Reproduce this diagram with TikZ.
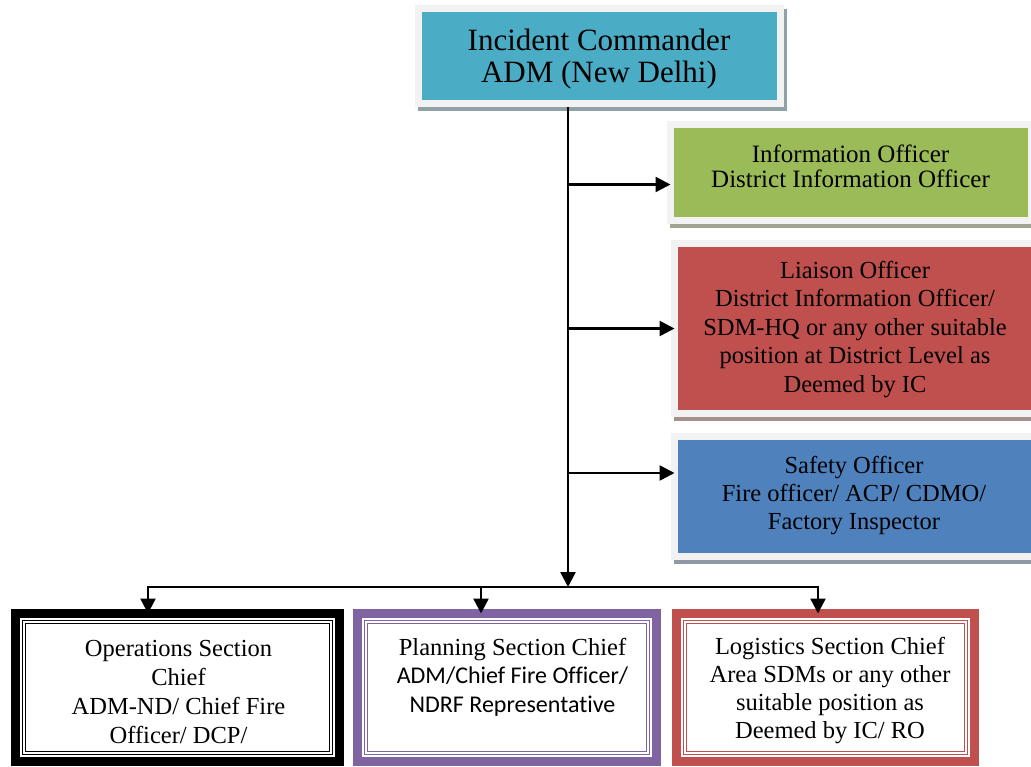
\documentclass[tikz,border=0pt]{standalone}
\usepackage{fontspec}
\setmainfont{Liberation Serif}
\newfontfamily\calfont[Ligatures=NoCommon]{Carlito}
\usetikzlibrary{arrows.meta,calc,backgrounds}
\definecolor{icteal}{HTML}{4BACC6}
\definecolor{infogreen}{HTML}{9BBB59}
\definecolor{liared}{HTML}{C0504D}
\definecolor{safeblue}{HTML}{4F81BD}
\definecolor{planpurple}{HTML}{8064A2}
\definecolor{logired}{HTML}{C0504D}
\begin{document}
\begin{tikzpicture}[x=1pt,y=-1pt,
  topbox/.style={rectangle, inner sep=0pt, outer sep=0pt, draw=gray!10,
    line width=7pt},
  secbox/.style={rectangle, inner sep=0pt, outer sep=0pt, line width=9pt,
    fill=white, minimum height=148pt},
  boxtext/.style={align=center, anchor=base, inner sep=0pt, text=black},
  conn/.style={line width=2.5pt, -{Triangle[length=15pt,width=15pt]}},
  innerframe/.style={line width=1.1pt, double=white, double distance=2pt}]
\useasboundingbox (0,0) rectangle (1031,766);

% command and staff boxes
\node[topbox, fill=icteal, minimum width=362pt, minimum height=95pt] (ic) at (599.5,56) {};
\node[topbox, fill=infogreen, minimum width=361pt, minimum height=96pt] (info) at (851,172.5) {};
\node[topbox, fill=liared, minimum width=363.5pt, minimum height=170pt] (liaison) at (856.25,328.5) {};
\node[topbox, fill=safeblue, minimum width=363.5pt, minimum height=120pt] (safety) at (856.25,496.5) {};

% anchored at the baseline of the last line
\node[boxtext, font=\fontsize{31}{32}\selectfont] (icT) at (599,82)
  {Incident Commander\\ADM (New Delhi)};
\node[boxtext, font=\fontsize{25}{25}\selectfont] (infoT) at (850.5,187)
  {Information Officer\\District Information Officer};
\node[boxtext, font=\fontsize{24.5}{28.5}\selectfont] (liaisonT) at (855,392)
  {Liaison Officer\\District Information Officer/\\SDM-HQ or any other suitable\\position at District Level as\\Deemed by IC};
\node[boxtext, font=\fontsize{24.5}{28}\selectfont] (safetyT) at (854,529)
  {Safety Officer\\Fire officer/ ACP/ CDMO/\\Factory Inspector};

% section chief boxes
\node[secbox, draw=black, minimum width=324pt] (ops) at (177.5,687.5) {};
\node[secbox, draw=planpurple, minimum width=299pt] (plan) at (507,687.5) {};
\node[secbox, draw=logired, minimum width=298pt] (logi) at (825.5,687.5) {};
\draw[innerframe, black] ($(ops.north west)+(8.5pt,-8.5pt)$) rectangle ($(ops.south east)+(-8.5pt,8.5pt)$);
\draw[innerframe, planpurple] ($(plan.north west)+(8.5pt,-8.5pt)$) rectangle ($(plan.south east)+(-8.5pt,8.5pt)$);
\draw[innerframe, logired] ($(logi.north west)+(8.5pt,-8.5pt)$) rectangle ($(logi.south east)+(-8.5pt,8.5pt)$);

\node[boxtext, font=\fontsize{24.5}{29}\selectfont] (opsT) at (178.5,743)
  {Operations Section\\Chief\\ADM-ND/ Chief Fire\\Officer/ DCP/};
\node[boxtext, font=\fontsize{24.5}{28.5}\selectfont] (planT) at (512.5,712)
  {Planning Section Chief\\\calfont\fontsize{24}{28.5}\selectfont ADM/Chief Fire Officer/\\\calfont\fontsize{24}{28.5}\selectfont NDRF Representative};
\node[boxtext, font=\fontsize{24.5}{28}\selectfont] (logiT) at (830,738)
  {Logistics Section Chief\\Area SDMs or any other\\suitable position as\\Deemed by IC/ RO};

% drop shadows under the staff boxes
\begin{scope}[on background layer]
  \foreach \b/\c in {ic/icteal, info/infogreen, liaison/liared, safety/safeblue}
    \fill[\c!25!gray!80] ($(\b.south west)+(-0.5pt,-7.5pt)$) rectangle ($(\b.north east)+(6.5pt,-0.5pt)$);
\end{scope}

% connectors
\coordinate (hub) at (568,587);
\coordinate (tInfo) at (568,184.5);
\coordinate (tLia) at (569,328.5);
\coordinate (tSaf) at (568,473);
\coordinate (hl) at (148,587);
\coordinate (hm) at (481,587);
\coordinate (hr) at (818,587);
\begin{scope}[on background layer]
  \draw[conn] (ic.south -| hub) -- (hub);
\end{scope}
\draw[conn] (tInfo) -- (tInfo -| info.west);
\draw[conn] (tLia) -- (tLia -| liaison.west);
\draw[conn] (tSaf) -- (tSaf -| safety.west);
\draw[conn] (hm) -- (hl) -- (hl |- ops.north);
\draw[conn] (hm) -- (hr) -- (hr |- logi.north);
\draw[conn] (hm) -- (hm |- plan.north);
\end{tikzpicture}
\end{document}
